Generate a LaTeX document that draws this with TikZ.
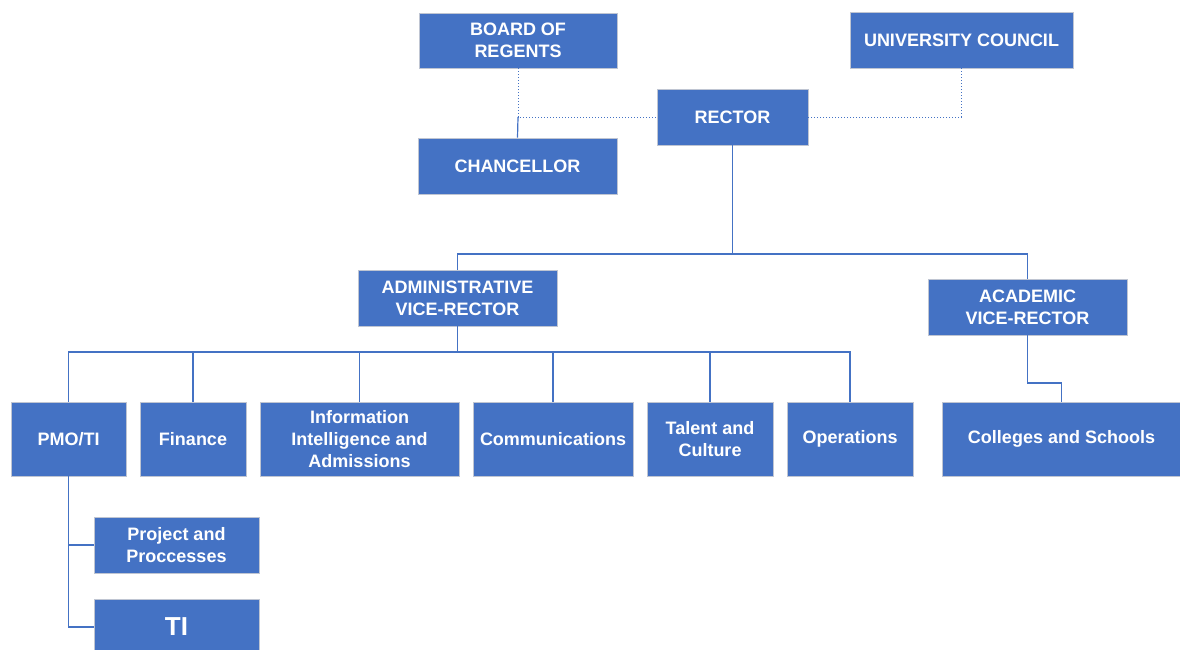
\documentclass[tikz,border=0pt]{standalone}
\usepackage{fontspec}
\setmainfont{Liberation Sans}
\definecolor{orgblue}{HTML}{4472C4}
\definecolor{orgedge}{HTML}{BFC5D2}
\begin{document}
\begin{tikzpicture}[x=1pt,y=-1pt,
  unit/.style={draw=orgedge, line width=0.8pt, fill=orgblue, text=white,
    font=\bfseries\fontsize{18}{22}\selectfont, align=center, inner sep=0pt},
  rowunit/.style={unit, minimum height=74pt},
  link/.style={draw=orgblue, line width=1.2pt},
  advisory/.style={draw=orgblue, line width=1pt, dash pattern=on 1pt off 2pt}]
\useasboundingbox (0,0) rectangle (1180,649);

% governing bodies and rector
\node[unit, minimum width=198pt, minimum height=55pt] (board) at (518,40.5) {BOARD OF\\REGENTS};
\node[unit, minimum width=199pt, minimum height=56pt] (chanc) at (517.5,166) {CHANCELLOR};
\node[unit, minimum width=151pt, minimum height=56pt] (rector) at (732.5,117) {RECTOR};
\node[unit, minimum width=223pt, minimum height=56pt] (council) at (961.5,40) {UNIVERSITY COUNCIL};

% vice-rectors
\node[unit, minimum width=199pt, minimum height=56pt] (admin) at (457.5,298) {ADMINISTRATIVE\\VICE-RECTOR};
\node[unit, minimum width=199pt, minimum height=56pt] (acad) at (1027.5,307) {ACADEMIC\\VICE-RECTOR};

% departments
\node[rowunit, minimum width=115pt] (pmo) at (68.5,439) {PMO/TI};
\node[rowunit, minimum width=106pt] (fin) at (193,439) {Finance};
\node[rowunit, minimum width=199pt] (info) at (359.5,439) {Information\\Intelligence and\\Admissions};
\node[rowunit, minimum width=160pt] (comm) at (553,439) {Communications};
\node[rowunit, minimum width=126pt] (talent) at (710,439) {Talent and\\Culture};
\node[rowunit, minimum width=126pt] (ops) at (850,439) {Operations};
\node[rowunit, minimum width=239pt] (colleges) at (1061.5,439) {Colleges and Schools};

% PMO/TI units
\node[unit, minimum width=165pt, minimum height=56pt] (proj) at (176.5,545) {Project and\\Proccesses};
\node[unit, minimum width=165pt, minimum height=56pt, font=\bfseries\fontsize{26}{30}\selectfont] (ti) at (176.5,627) {TI};

% advisory (dotted) relations
\draw[advisory] (board.south) |- (rector.west);
\draw[advisory] (council.south) |- (rector.east);
\coordinate (bj) at (board.south |- rector.west);
\draw[link] (bj) -- (chanc.north);

% rector to vice-rectors
\coordinate (vrbus) at (732.5,254);
\draw[link] (rector.south) -- (vrbus) -| (admin.north);
\draw[link] (vrbus) -| (acad.north);

% administrative vice-rector to departments
\coordinate (adbus) at (457.5,352);
\draw[link] (admin.south) -- (adbus);
\draw[link] (pmo.north) |- (ops.north |- adbus) -- (ops.north);
\foreach \d in {fin,info,comm,talent}
  \draw[link] (\d.north) -- (\d.north |- adbus);

% academic vice-rector to colleges
\draw[link] (acad.south) |- (colleges.north |- 0,383) -- (colleges.north);

% PMO/TI to its units
\draw[link] (pmo.south) |- (ti.west);
\draw[link] (pmo.south |- proj.west) -- (proj.west);
\end{tikzpicture}
\end{document}
